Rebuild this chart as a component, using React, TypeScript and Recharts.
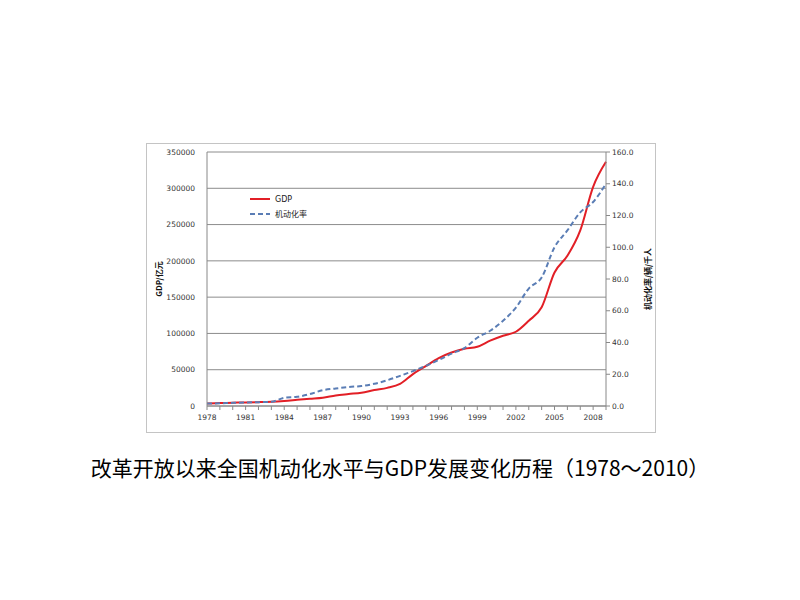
import React from 'react';
import {
  ComposedChart,
  Line,
  XAxis,
  YAxis,
  CartesianGrid,
} from 'recharts';

// Years on the category axis
const years = [
  1978, 1979, 1980, 1981, 1982, 1983, 1984, 1985, 1986, 1987, 1988,
  1989, 1990, 1991, 1992, 1993, 1994, 1995, 1996, 1997, 1998, 1999,
  2000, 2001, 2002, 2003, 2004, 2005, 2006, 2007, 2008, 2009,
];

// GDP in 亿元 (left axis)
const gdp = [
  3600, 4000, 4500, 4900, 5300, 5900, 7000, 8500, 10000, 11500, 14500,
  16500, 18400, 22000, 25000, 30400, 44000, 55000, 66000, 73700, 78800, 81600,
  90000, 96800, 102300, 117500, 136000, 184000, 207000, 242000, 302000, 336500,
];

// 机动化率 (right axis)
const motorization = [
  1.5, 1.7, 2.0, 2.2, 2.4, 2.6, 5.2, 5.8, 7.5, 10.0, 11.0,
  12.0, 12.6, 14.0, 16.2, 19.0, 22.0, 25.3, 29.0, 33.0, 36.5, 43.0,
  47.4, 53.7, 62.0, 74.0, 81.0, 100.0, 110.6, 122.0, 128.5, 140.0,
];

const leftTicks = [0, 50000, 100000, 150000, 200000, 250000, 300000, 350000];
const rightTicks = [0, 20, 40, 60, 80, 100, 120, 140, 160];

const data = years.map((y, i) => ({
  year: y,
  gdp: gdp[i],
  rate: motorization[i],
}));

const tickFont = { fontSize: 7.5, fill: '#333', fontFamily: 'DejaVu Sans' };

// only every 3rd year gets a label, but every year gets a tick mark
const XTick = (props: any) => {
  const { x, y, payload } = props;
  if ((payload.value - 1978) % 3 !== 0) return null;
  return (
    <text x={x} y={y + 8} textAnchor="middle" {...tickFont}>
      {payload.value}
    </text>
  );
};

const LegendBox = () => (
  <svg width={80} height={32} style={{ position: 'absolute', left: 101, top: 49 }}>
    <line x1={2} y1={6} x2={22} y2={6} stroke="#e21f26" strokeWidth={2} />
    <text x={27} y={9} fontSize={8} fill="#222" fontFamily="DejaVu Sans">GDP</text>
    <line x1={2} y1={21} x2={22} y2={21} stroke="#5a7db5" strokeWidth={2} strokeDasharray="5 3" />
    <text x={27} y={24} fontSize={8} fill="#222" fontFamily="'Noto Sans CJK SC'">机动化率</text>
  </svg>
);

const App = () => {
  return (
    <div style={{ position: 'relative', width: 800, height: 600, margin: -8, background: '#fff' }}>
      <div
        style={{
          position: 'absolute',
          left: 146,
          top: 143,
          width: 510,
          height: 290,
          border: '1px solid #c4c4c4',
          boxSizing: 'border-box',
        }}
      >
        <ComposedChart
          width={508}
          height={288}
          data={data}
          margin={{ top: 8, right: 0, bottom: 0, left: 0 }}
        >
          <CartesianGrid yAxisId="left" vertical={false} stroke="#8c8c8c" strokeWidth={1} />
          <XAxis
            dataKey="year"
            interval={0}
            tick={XTick}
            tickLine={{ stroke: '#888' }}
            tickSize={4}
            axisLine={{ stroke: '#888' }}
            height={26}
          />
          <YAxis
            yAxisId="left"
            domain={[0, 350000]}
            ticks={leftTicks}
            interval={0}
            width={60}
            tick={tickFont}
            tickLine={false}
            tickMargin={6}
            axisLine={{ stroke: '#888' }}
            label={{
              value: 'GDP/亿元',
              angle: -90,
              position: 'insideLeft',
              offset: 12,
              style: { fontSize: 8, fontWeight: 'bold', fill: '#111', fontFamily: "'Noto Sans CJK SC'", textAnchor: 'middle' },
            }}
          />
          <YAxis
            yAxisId="right"
            orientation="right"
            domain={[0, 160]}
            ticks={rightTicks}
            interval={0}
            width={49}
            tick={tickFont}
            tickFormatter={(v: number) => v.toFixed(1)}
            tickLine={{ stroke: '#888' }}
            tickSize={4}
            axisLine={{ stroke: '#888' }}
            label={{
              value: '机动化率/辆/千人',
              angle: -90,
              position: 'insideRight',
              offset: 7,
              style: { fontSize: 8, fontWeight: 'bold', fill: '#111', fontFamily: "'Noto Sans CJK SC'", textAnchor: 'middle' },
            }}
          />
          <Line
            yAxisId="left"
            type="monotone"
            dataKey="gdp"
            name="GDP"
            stroke="#e21f26"
            strokeWidth={2}
            dot={false}
            isAnimationActive={false}
          />
          <Line
            yAxisId="right"
            type="monotone"
            dataKey="rate"
            name="机动化率"
            stroke="#5a7db5"
            strokeWidth={2}
            strokeDasharray="5 3"
            dot={false}
            isAnimationActive={false}
          />
        </ComposedChart>
        <LegendBox />
      </div>
      <div
        style={{
          position: 'absolute',
          left: 0,
          top: 452,
          width: 800,
          textAlign: 'center',
          fontSize: 21,
          fontFamily: "'Noto Sans CJK SC'",
          color: '#000',
          whiteSpace: 'nowrap',
        }}
      >
        改革开放以来全国机动化水平与GDP发展变化历程（1978～2010）
      </div>
    </div>
  );
};

export default App;
